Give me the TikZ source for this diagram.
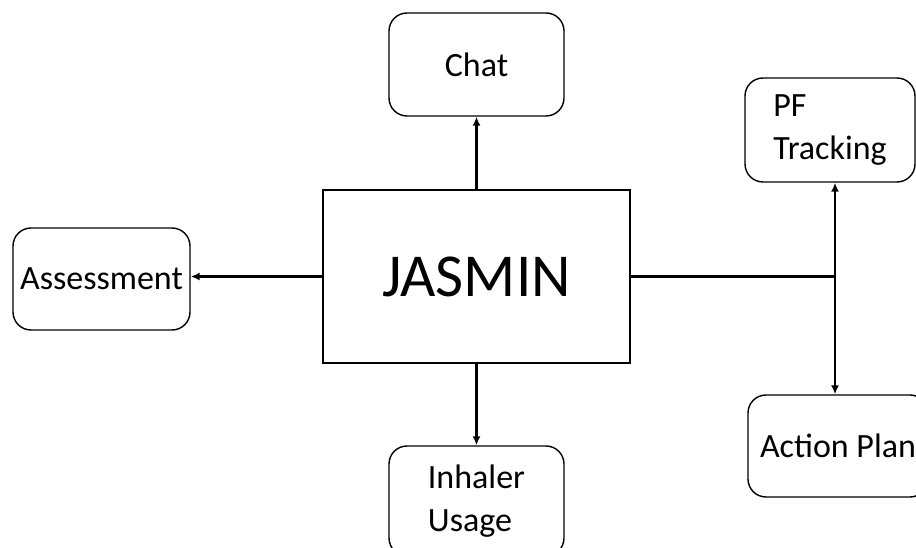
\documentclass[tikz,border=0pt]{standalone}
\usepackage{fontspec}
\setmainfont{Carlito}
\usepackage{tikz}
\usetikzlibrary{arrows.meta}

\begin{document}
\begin{tikzpicture}[x=1pt, y=1pt,
    module/.style={draw, line width=1.4pt, rounded corners=18pt, align=left,
      font=\fontsize{34}{43}\selectfont, inner sep=0pt},
    link/.style={line width=2.2pt, -{Latex[length=9pt, width=8pt]}}]
    \useasboundingbox (0,0) rectangle (916,547);
    \clip (0,0) rectangle (916,547);

    \node[draw, line width=1.4pt, minimum width=307, minimum height=173,
      font=\fontsize{61}{70}\selectfont] (jasmin) at (476.5,270.5) {JASMIN};

    \node[module, minimum width=175, minimum height=103] (chat) at (476.5,482.5) {Chat};
    \node[module, minimum width=177, minimum height=102] (assess) at (101.5,268) {Assessment};
    \node[module, minimum width=170, minimum height=104] (pf) at (830,417) {PF\\Tracking};
    \node[module, minimum width=180, minimum height=102] (plan) at (838,101) {Action Plan};
    \node[module, minimum width=175, minimum height=110] (inhaler) at (476.5,46) {Inhaler\\Usage};

    \coordinate (split) at (835,270.5);

    \draw[link] (jasmin.north) -- (chat.south);
    \draw[link] (jasmin.south) -- (inhaler.north);
    \draw[link] (jasmin.west) -- (jasmin.west -| assess.east);
    \draw[line width=2.2pt] (jasmin.east) -- (split);
    \draw[link] (split) -- (split |- pf.south);
    \draw[link] (split) -- (split |- plan.north);
  \end{tikzpicture}
\end{document}
